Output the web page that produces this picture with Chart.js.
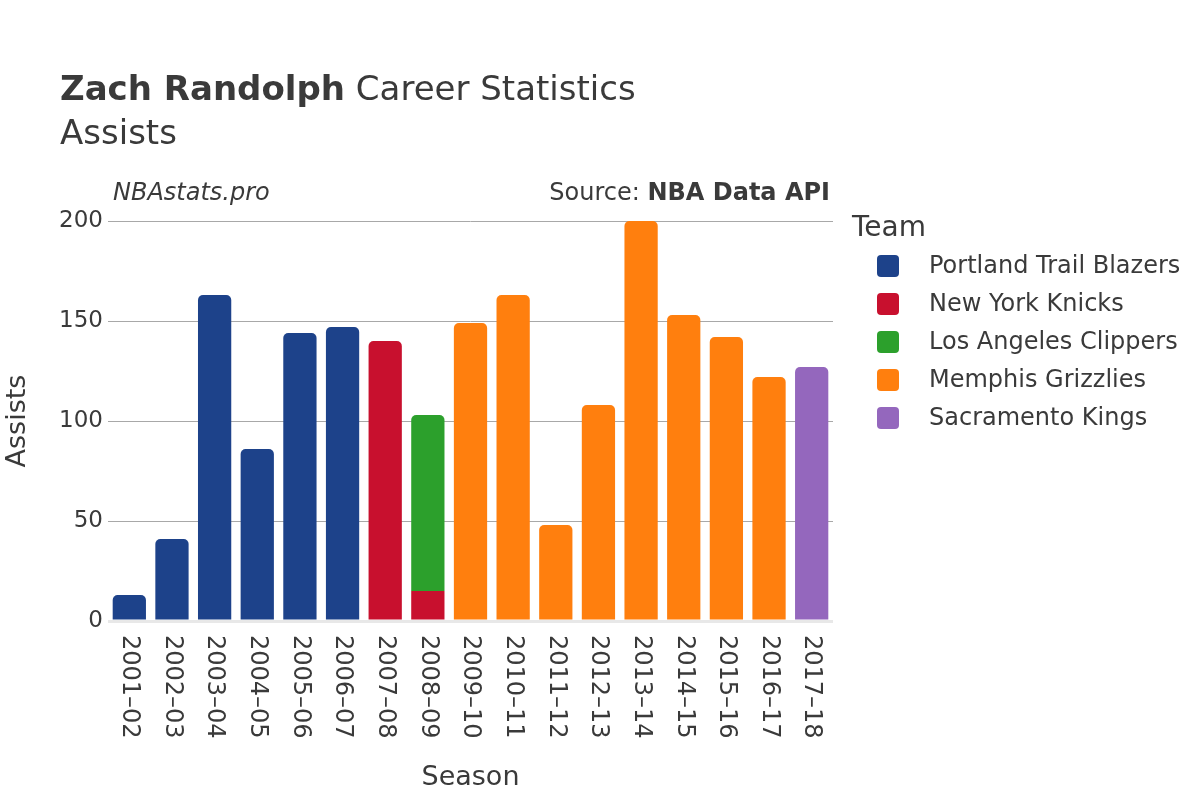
<!DOCTYPE html>
<html>
<head>
<meta charset="utf-8">
<script src="https://cdn.jsdelivr.net/npm/chart.js@4.4.1/dist/chart.umd.min.js"></script>
<style>
  html, body { margin: 0; padding: 0; background: #fff; }
  canvas { display: block; }
</style>
</head>
<body>
<canvas id="chart" width="1200" height="800"></canvas>
<script>
// =========================
// DATA
// =========================
const SEASONS = ['2001–02','2002–03','2003–04','2004–05','2005–06','2006–07','2007–08','2008–09',
  '2009–10','2010–11','2011–12','2012–13','2013–14','2014–15','2015–16','2016–17','2017–18'];

const TEAMS = ['Portland Trail Blazers','New York Knicks','Los Angeles Clippers','Memphis Grizzlies','Sacramento Kings'];
const TEAM_COLORS = ['#1d428a','#c8102e','#2ca02c','#ff7f0e','#9467bd'];

// assists per season, per team (null = did not play for that team)
const portland   = [13, 41, 163, 86, 144, 147, null, null, null, null, null, null, null, null, null, null, null];
const knicks     = [null, null, null, null, null, null, 140, 15, null, null, null, null, null, null, null, null, null];
const clippers   = [null, null, null, null, null, null, null, 88, null, null, null, null, null, null, null, null, null];
const memphis    = [null, null, null, null, null, null, null, null, 149, 163, 48, 108, 200, 153, 142, 122, null];
const sacramento = [null, null, null, null, null, null, null, null, null, null, null, null, null, null, null, null, 127];

const Y_TICKS = [0, 50, 100, 150, 200];

const series = [portland, knicks, clippers, memphis, sacramento];

// =========================
// Config
// =========================
const FONT = 'DejaVu Sans';
const TXT = '#3a3a3a';

// rounded top only on the last segment of each stack
function topRadius(ctx) {
  const i = ctx.dataIndex, d = ctx.datasetIndex;
  for (let k = d + 1; k < series.length; k++) {
    if (series[k][i] != null) return 0;
  }
  return { topLeft: 5, topRight: 5, bottomLeft: 0, bottomRight: 0 };
}

const overlay = {
  id: 'overlay',
  afterDraw(chart) {
    const c = chart.ctx;
    c.save();
    c.fillStyle = TXT;
    c.textBaseline = 'alphabetic';
    c.textAlign = 'left';

    // title
    c.font = `bold 34px "${FONT}"`;
    c.fillText('Zach Randolph', 60, 100);
    const w = c.measureText('Zach Randolph').width;
    c.font = `34px "${FONT}"`;
    c.fillText(' Career Statistics', 60 + w, 100);
    c.fillText('Assists', 60, 144);

    // subtitles
    c.font = `italic 24px "${FONT}"`;
    c.fillText('NBAstats.pro', 113, 200);
    c.textAlign = 'right';
    c.font = `bold 24px "${FONT}"`;
    c.fillText('NBA Data API', 830, 200);
    const w2 = c.measureText('NBA Data API').width;
    c.font = `24px "${FONT}"`;
    c.fillText('Source: ', 830 - w2, 200);

    // x tick labels, rotated clockwise
    const xs = chart.scales.x;
    c.font = `24px "${FONT}"`;
    c.textAlign = 'left';
    c.textBaseline = 'middle';
    SEASONS.forEach((s, i) => {
      const x = xs.getPixelForValue(i);
      c.save();
      c.translate(x, 635);
      c.rotate(Math.PI / 2);
      c.fillText(s, 0, 0);
      c.restore();
    });

    // legend
    c.textBaseline = 'alphabetic';
    c.font = `28px "${FONT}"`;
    c.fillText('Team', 852, 236);
    c.font = `24px "${FONT}"`;
    c.textBaseline = 'middle';
    TEAMS.forEach((t, i) => {
      const y = 266 + i * 38;
      c.fillStyle = TEAM_COLORS[i];
      c.beginPath();
      c.roundRect(877, y - 11, 22, 22, 4);
      c.fill();
      c.fillStyle = TXT;
      c.fillText(t, 929, y + 1);
    });
    c.restore();
  }
};

new Chart(document.getElementById('chart'), {
  type: 'bar',
  data: {
    labels: SEASONS,
    datasets: TEAMS.map((t, i) => ({
      label: t,
      data: series[i],
      backgroundColor: TEAM_COLORS[i],
      borderWidth: 0,
      borderRadius: topRadius,
      borderSkipped: false,
      barPercentage: 0.78,
      categoryPercentage: 1
    }))
  },
  options: {
    responsive: false,
    animation: false,
    devicePixelRatio: 1,
    layout: { padding: { top: 221, right: 367, left: 0, bottom: 0 } },
    plugins: { legend: { display: false }, tooltip: { enabled: false } },
    scales: {
      x: {
        stacked: true,
        grid: { display: false },
        border: { display: false },
        ticks: { display: false },
        title: { display: true, text: 'Season', color: TXT, font: { family: FONT, size: 27 }, padding: { top: 0, bottom: 6 } },
        afterFit: s => { s.height = 179; }
      },
      y: {
        stacked: true,
        min: 0,
        max: 200,
        afterBuildTicks: s => { s.ticks = Y_TICKS.map(v => ({ value: v })); },
        border: { display: false },
        grid: {
          drawTicks: false,
          color: ctx => ctx.tick && ctx.tick.value === 0 ? '#e8e8e8' : '#a8a8a8',
          lineWidth: ctx => ctx.tick && ctx.tick.value === 0 ? 3 : 1
        },
        ticks: { color: TXT, font: { family: FONT, size: 23 }, padding: 5 },
        title: { display: true, text: 'Assists', color: TXT, font: { family: FONT, size: 27 }, padding: { top: 2, bottom: 0 } },
        afterFit: s => { s.width = 108; }
      }
    }
  },
  plugins: [overlay]
});
</script>
</body>
</html>
